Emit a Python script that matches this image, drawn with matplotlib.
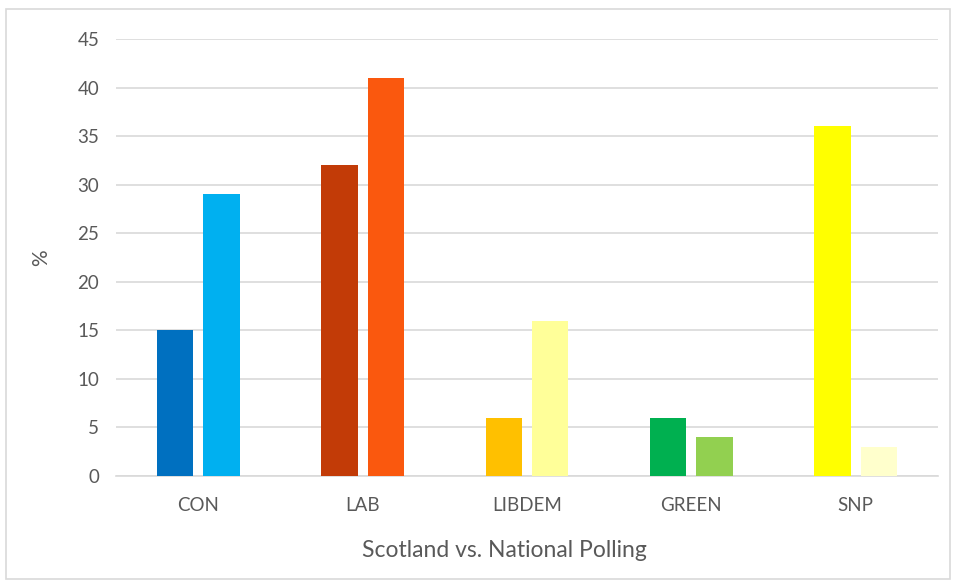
import matplotlib.pyplot as plt
import numpy as np
from matplotlib.patches import Rectangle

# =========================
# Data
# =========================
parties = ["CON", "LAB", "LIBDEM", "GREEN", "SNP"]
scotland = [15, 32, 6, 6, 36]
national = [29, 41, 16, 4, 3]

scotland_colors = ["#0070C0", "#C23B07", "#FFC000", "#00B050", "#FFFF00"]
national_colors = ["#00B0F0", "#FA580E", "#FFFF99", "#92D050", "#FFFFCC"]

plt.rcParams["font.family"] = ["Lato", "DejaVu Sans"]

# =========================
# Figure
# =========================
fig = plt.figure(figsize=(9.54, 5.81), dpi=100)
ax = fig.add_axes([0.1216, 0.1807, 0.8616, 0.7522])

x = np.arange(len(parties))
width = 0.222
offset = 0.141

ax.bar(x - offset, scotland, width, color=scotland_colors, zorder=3)
ax.bar(x + offset, national, width, color=national_colors, zorder=3)

ax.set_xlim(-0.5, len(parties) - 0.5)
ax.set_ylim(0, 45)
ax.set_yticks(np.arange(0, 46, 5))
ax.set_xticks(x)
ax.set_xticklabels(parties)

ax.grid(axis="y", color="#D9D9D9", linewidth=1.2, zorder=0)
for s in ["top", "right", "left"]:
    ax.spines[s].set_visible(False)
ax.spines["bottom"].set_color("#D9D9D9")
ax.spines["bottom"].set_linewidth(1.2)

ax.tick_params(axis="both", length=0, labelsize=13.5, labelcolor="#595959")
ax.tick_params(axis="y", pad=12)
ax.tick_params(axis="x", pad=15)

ax.set_ylabel("%", fontsize=15, color="#595959")
ax.yaxis.set_label_coords(-0.079, 0.5)
ax.set_xlabel("Scotland vs. National Polling", fontsize=16.5, color="#595959")
ax.xaxis.set_label_coords(0.473, -0.147)

# outer chart border
fig.patches.append(Rectangle((0.0063, 0.003), 0.99, 0.981, transform=fig.transFigure,
                             fill=False, edgecolor="#D9D9D9", linewidth=1.2))

plt.savefig("out.png", dpi=100)
